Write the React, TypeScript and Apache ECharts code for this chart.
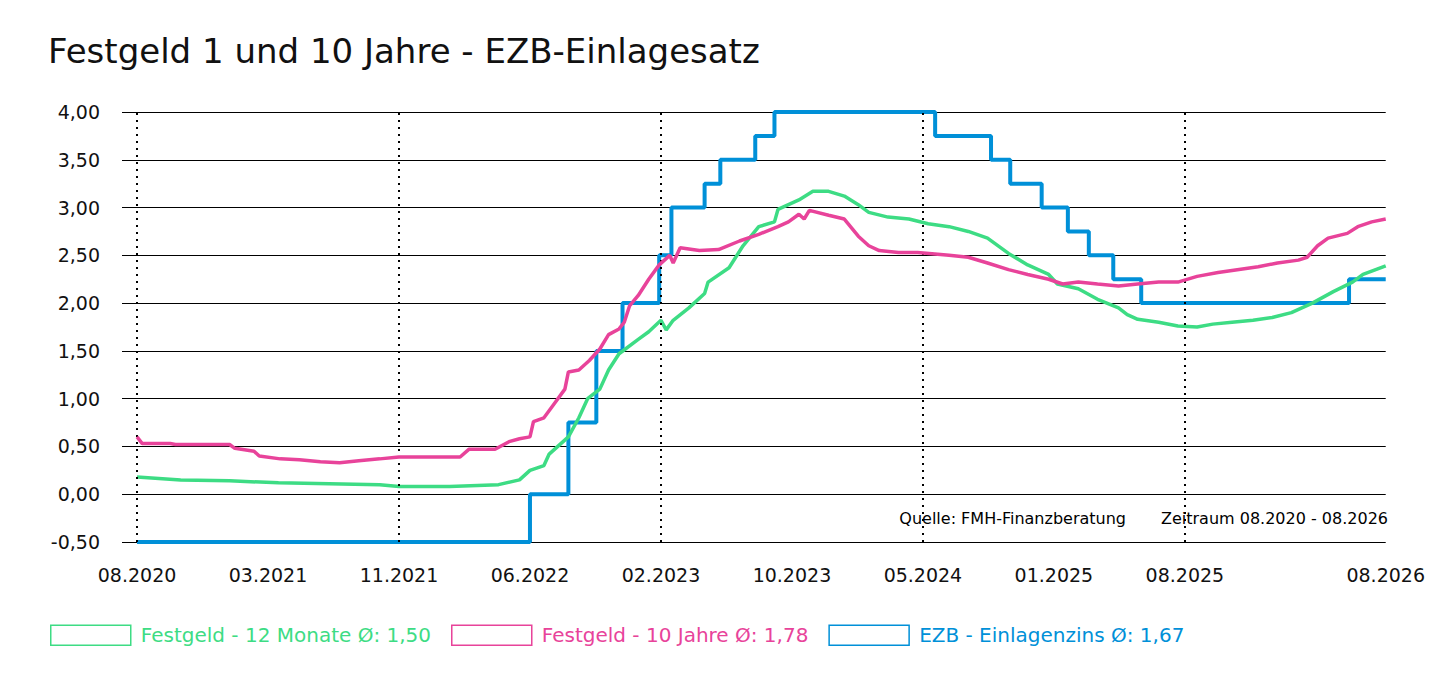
import React, { useEffect, useRef } from "react";
import * as echarts from "echarts";

const tickMonths = [0, 7.5, 15, 22.5, 30, 37.5, 45, 52.5, 60, 71.5];
const tickLabels = ["08.2020", "03.2021", "11.2021", "06.2022", "02.2023", "10.2023", "05.2024", "01.2025", "08.2025", "08.2026"];
const dottedMonths = [0, 15, 30, 45, 60];

const greenM = [0, 2.5, 5.3, 8.1, 11.0, 13.9, 15.0, 17.9, 20.7, 21.9, 22.5, 23.3, 23.6, 24.7, 25.3, 25.8, 26.5, 27.0, 27.6, 28.7, 29.3, 30.0, 30.3, 30.7, 31.6, 32.5, 32.7, 33.9, 34.7, 35.6, 36.5, 36.7, 37.9, 38.7, 39.6, 40.5, 41.3, 41.9, 43.0, 44.2, 45.3, 46.5, 47.6, 48.7, 49.9, 51.0, 52.2, 52.7, 53.9, 55.0, 56.2, 56.7, 57.3, 58.5, 59.6, 60.7, 61.6, 62.7, 63.9, 65.0, 66.1, 67.3, 68.5, 69.6, 70.2, 71.5];
const greenV = [0.18, 0.15, 0.14, 0.12, 0.11, 0.1, 0.08, 0.08, 0.1, 0.15, 0.25, 0.3, 0.42, 0.6, 0.8, 1.0, 1.1, 1.3, 1.47, 1.62, 1.7, 1.82, 1.72, 1.82, 1.95, 2.1, 2.22, 2.37, 2.6, 2.8, 2.85, 2.98, 3.08, 3.17, 3.17, 3.12, 3.03, 2.95, 2.9, 2.88, 2.83, 2.8, 2.75, 2.68, 2.52, 2.4, 2.3, 2.2, 2.15, 2.04, 1.95, 1.88, 1.83, 1.8, 1.76, 1.75, 1.78, 1.8, 1.82, 1.85, 1.9, 2.0, 2.12, 2.22, 2.3, 2.39];

const pinkM = [0, 0.3, 1.9, 2.2, 5.3, 5.6, 6.7, 7.0, 8.2, 9.3, 10.5, 11.6, 12.7, 13.9, 15.0, 16.2, 18.5, 19.0, 20.5, 21.3, 21.9, 22.5, 22.7, 23.3, 23.9, 24.5, 24.7, 25.3, 25.9, 26.5, 27.0, 27.6, 27.9, 28.2, 28.7, 29.3, 29.9, 30.5, 30.7, 31.1, 32.2, 33.3, 34.5, 35.6, 36.7, 37.3, 37.9, 38.2, 38.5, 39.6, 40.5, 41.3, 41.9, 42.5, 43.6, 44.7, 46.5, 47.6, 48.7, 49.9, 51.0, 52.2, 53.0, 53.9, 55.0, 56.2, 57.3, 58.5, 59.6, 60.7, 61.9, 63.0, 64.2, 65.3, 66.5, 67.0, 67.6, 68.2, 69.3, 69.9, 70.7, 71.5];
const pinkV = [0.6, 0.53, 0.53, 0.52, 0.52, 0.48, 0.45, 0.4, 0.37, 0.36, 0.34, 0.33, 0.35, 0.37, 0.39, 0.39, 0.39, 0.47, 0.47, 0.55, 0.58, 0.6, 0.76, 0.8, 0.95, 1.1, 1.28, 1.3, 1.4, 1.52, 1.67, 1.73, 1.8, 1.97, 2.08, 2.25, 2.4, 2.5, 2.42, 2.58, 2.55, 2.56, 2.65, 2.72, 2.8, 2.85, 2.93, 2.88, 2.97, 2.92, 2.88, 2.7, 2.6, 2.55, 2.53, 2.53, 2.5, 2.48, 2.42, 2.35, 2.3, 2.25, 2.2, 2.22, 2.2, 2.18, 2.2, 2.22, 2.22, 2.28, 2.32, 2.35, 2.38, 2.42, 2.45, 2.48, 2.6, 2.68, 2.73, 2.8, 2.85, 2.88];

const ezbM = [0, 22.5, 24.7, 26.3, 27.8, 29.9, 30.6, 32.5, 33.4, 35.4, 36.5, 45.7, 48.9, 50.0, 51.8, 53.3, 54.5, 55.9, 57.5, 69.4, 71.5];
const ezbV = [-0.5, 0, 0.75, 1.5, 2.0, 2.5, 3.0, 3.25, 3.5, 3.75, 4.0, 3.75, 3.5, 3.25, 3.0, 2.75, 2.5, 2.25, 2.0, 2.25, 2.25];

const GREEN = "#3ddc84";
const PINK = "#e8439a";
const BLUE = "#0090d8";
const FONT = "DejaVu Sans";

const zip = (a: number[], b: number[]) => a.map((x, i) => [x, b[i]]);

export default function App() {
  const ref = useRef<HTMLDivElement>(null);
  useEffect(() => {
    const chart = echarts.init(ref.current!, null, { renderer: "svg" });
    const legendText = (color: string) => ({ color, fontSize: 20, fontFamily: FONT, padding: [0, 0, 0, 5] });
    chart.setOption({
      animation: false,
      textStyle: { fontFamily: FONT },
      title: { text: "Festgeld 1 und 10 Jahre - EZB-Einlagesatz", left: 35, top: 21, textStyle: { fontSize: 34, fontWeight: "normal", color: "#111", fontFamily: FONT } },
      grid: { left: 114, right: 40, top: 104, bottom: 136 },
      legend: {
        bottom: 27, left: 37, itemWidth: 80, itemHeight: 20, itemGap: 20, icon: "rect",
        data: [
          { name: "Festgeld - 12 Monate Ø: 1,50", itemStyle: { color: "#fff", borderColor: GREEN, borderWidth: 1.5 }, textStyle: legendText(GREEN) },
          { name: "Festgeld - 10 Jahre Ø: 1,78", itemStyle: { color: "#fff", borderColor: PINK, borderWidth: 1.5 }, textStyle: legendText(PINK) },
          { name: "EZB - Einlagenzins Ø: 1,67", itemStyle: { color: "#fff", borderColor: BLUE, borderWidth: 1.5 }, textStyle: legendText(BLUE) },
        ],
      },
      xAxis: {
        type: "value", min: -0.86, max: 71.5,
        axisLine: { show: false }, axisTick: { show: false }, splitLine: { show: false },
        axisLabel: {
          customValues: tickMonths, margin: 23, fontSize: 19, color: "#111",
          formatter: (v: number) => { const i = tickMonths.findIndex((t) => Math.abs(t - v) < 0.01); return i >= 0 ? tickLabels[i] : ""; },
        },
      },
      yAxis: {
        type: "value", min: -0.5, max: 4, interval: 0.5,
        axisLine: { show: false }, axisTick: { show: false },
        splitLine: { lineStyle: { color: "#000", width: 1.2 } },
        axisLabel: { fontSize: 19, color: "#111", margin: 22, formatter: (v: number) => v.toFixed(2).replace(".", ",") },
      },
      graphic: [
        { type: "text", right: 40 + 262, top: 502, style: { text: "Quelle: FMH-Finanzberatung", fontSize: 16, fill: "#000", fontFamily: FONT } },
        { type: "text", right: 40, top: 502, style: { text: "Zeitraum 08.2020 - 08.2026", fontSize: 16, fill: "#000", fontFamily: FONT } },
      ],
      series: [
        {
          name: "EZB - Einlagenzins Ø: 1,67", type: "line", step: "end", data: zip(ezbM, ezbV), showSymbol: false, z: 3,
          lineStyle: { color: BLUE, width: 4 }, itemStyle: { color: BLUE },
          markLine: { silent: true, symbol: "none", label: { show: false }, lineStyle: { color: "#000", type: [2, 5], width: 2 }, data: dottedMonths.map((m) => ({ xAxis: m })) },
        },
        { name: "Festgeld - 12 Monate Ø: 1,50", type: "line", data: zip(greenM, greenV), showSymbol: false, z: 4, lineStyle: { color: GREEN, width: 3.5 }, itemStyle: { color: GREEN } },
        { name: "Festgeld - 10 Jahre Ø: 1,78", type: "line", data: zip(pinkM, pinkV), showSymbol: false, z: 5, lineStyle: { color: PINK, width: 3.5 }, itemStyle: { color: PINK } },
      ],
    });
    return () => chart.dispose();
  }, []);
  return <div ref={ref} style={{ width: 1420, height: 670 }} />;
}
